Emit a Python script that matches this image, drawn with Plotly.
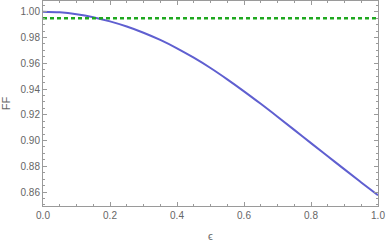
import plotly.graph_objects as go

eps = [0, 0.05, 0.1, 0.15, 0.2, 0.25, 0.3, 0.35, 0.4, 0.45, 0.5,
       0.55, 0.6, 0.65, 0.7, 0.75, 0.8, 0.85, 0.9, 0.95, 1.0]
ff = [1.0000, 0.99950, 0.99805, 0.9957, 0.9925, 0.9885, 0.9837, 0.9781, 0.9716,
      0.9643, 0.9563, 0.9475, 0.9382, 0.9285, 0.9185, 0.9083, 0.8980, 0.8878,
      0.8776, 0.8675, 0.8575]
threshold = 0.995

fig = go.Figure()
fig.add_trace(go.Scatter(x=eps, y=ff, mode="lines", line=dict(color="#5F5FD0", width=2, shape="spline"),
                         showlegend=False))
fig.add_trace(go.Scatter(x=[0, 1], y=[threshold, threshold], mode="lines",
                         line=dict(color="#1FA81F", width=2.5, dash="4px,3px"), showlegend=False))

axis_common = dict(showline=True, linecolor="#9A9A9A", linewidth=1, mirror="allticks",
                   ticks="inside", ticklen=4, tickcolor="#9A9A9A", showgrid=False, zeroline=False,
                   tickfont=dict(family="Liberation Sans, Arial", size=10, color="#666666"))

fig.update_xaxes(range=[0, 1.0], tickvals=[0, 0.2, 0.4, 0.6, 0.8, 1.0], tickformat=".1f",
                 minor=dict(dtick=0.05, ticks="inside", ticklen=2, tickcolor="#9A9A9A"),
                 title=dict(text="ϵ", font=dict(family="Liberation Sans, Arial", size=11, color="#666666"), standoff=12),
                 **axis_common)
fig.update_yaxes(range=[0.8492, 1.0083], tickvals=[0.86, 0.88, 0.90, 0.92, 0.94, 0.96, 0.98, 1.00],
                 tickformat=".2f",
                 minor=dict(dtick=0.005, ticks="inside", ticklen=2, tickcolor="#9A9A9A"),
                 title=dict(text="FF", font=dict(family="Liberation Sans, Arial", size=11, color="#666666"), standoff=8),
                 **axis_common)

fig.update_layout(width=386, height=245, margin=dict(l=43, r=8, t=1, b=39),
                  plot_bgcolor="white", paper_bgcolor="white")
fig.write_html("out.html", config={"displayModeBar": False})

with open("out.html", "r", encoding="utf-8") as f:
    html = f.read()
html = html.replace("<head>", "<head><style>html,body{margin:0;padding:0;overflow:hidden;}</style>", 1)
with open("out.html", "w", encoding="utf-8") as f:
    f.write(html)
